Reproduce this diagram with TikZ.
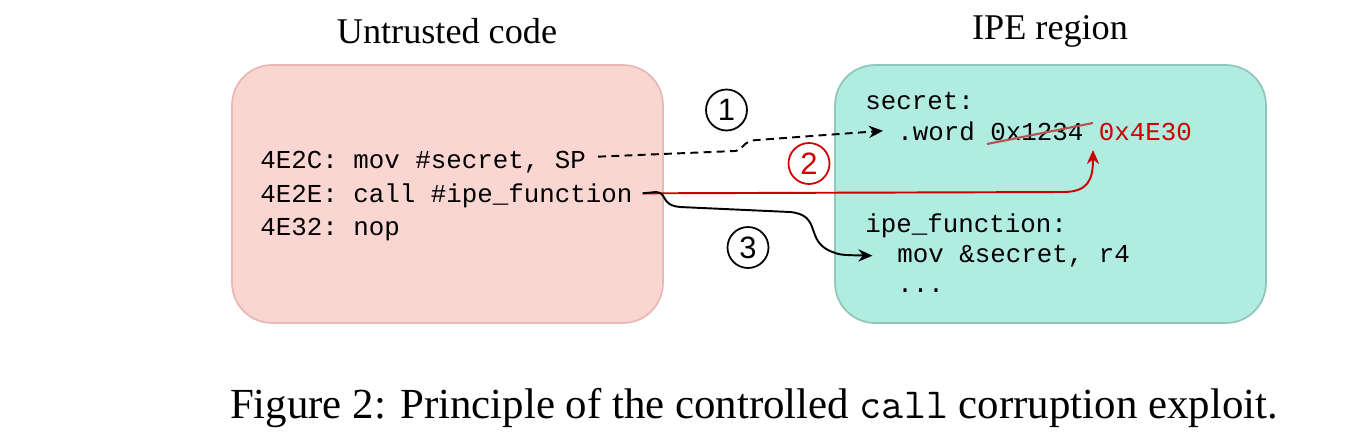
\documentclass[tikz,border=0pt]{standalone}
\usepackage{fontspec}
\setmainfont{Liberation Serif}
\setmonofont{Liberation Mono}
\setsansfont{Liberation Sans}
\newfontfamily\capmono{Latin Modern Mono}
\usetikzlibrary{arrows.meta}

\definecolor{untrustfill}{RGB}{250,214,211}
\definecolor{untrustline}{RGB}{232,184,180}
\definecolor{ipefill}{RGB}{177,236,224}
\definecolor{ipeline}{RGB}{143,199,186}
\definecolor{codered}{RGB}{204,0,0}
\definecolor{strikered}{RGB}{184,84,80}

\begin{document}
\begin{tikzpicture}[x=0.02cm,y=-0.02cm,>={Stealth[length=8pt,width=7pt]},
    region/.style={draw,line width=1pt,rounded corners=0.8cm,minimum width=8.62cm,minimum height=5.16cm},
    code/.style={anchor=base west,inner sep=0pt,font=\ttfamily\fontsize{14.7}{17}\selectfont},
    title/.style={font=\fontsize{20.6}{24}\selectfont},
    stepnum/.style={circle,draw,line width=1pt,minimum size=0.82cm,inner sep=0pt,font=\sffamily\fontsize{17.6}{20}\selectfont}]
    \useasboundingbox (0,0) rectangle (1366,447);
    % the two memory regions
    \node[title] (tU) at (447,31) {Untrusted code};
    \node[title] (tI) at (1050,31) {IPE region};
    \node[region,fill=untrustfill,draw=untrustline] (U) at (447.5,194) {};
    \node[region,fill=ipefill,draw=ipeline] (I) at (1050.5,194) {};
    % untrusted code
    \node[code] (c1) at (260,168) {4E2C: mov \#secret, SP};
    \node[code] (c2) at (260,202) {4E2E: call \#ipe\_function};
    \node[code] (c3) at (260,235) {4E32: nop};
    % IPE region code
    \node[code] (s1) at (865,109) {secret:};
    \node[code] (s2) at (897,140) {.word 0x1234 \textcolor{codered}{0x4E30}};
    \node[code] (f1) at (865,232) {ipe\_function:};
    \node[code] (f2) at (897,262) {mov \&secret, r4};
    \node[code] (f3) at (897,292) {...};
    \coordinate (w1) at (987,144);
    \coordinate (w2) at (1093,123);
    \coordinate (w3) at (1093,150);
    \draw[strikered,line width=1.2pt] (w1) -- (w2);
    % steps
    \draw[->,line width=1.1pt,dash pattern=on 4.5pt off 3pt] ([shift={(12,-5)}]c1.east) -- (735,151)
        .. controls (745,150) and (741,141) .. (757,140) -- ([xshift=-8]s2.west);
    \draw[->,codered,line width=1.1pt] ([shift={(10,-2)}]c2.east) -- (1063,192)
        .. controls (1088,192) and (1093,180) .. (w3);
    \draw[->,line width=1.1pt] ([shift={(10,-2)}]c2.east) -- (656,192)
        .. controls (668,193) and (660,205) .. (680,207) -- (790,212)
        .. controls (822,215) and (805,240) .. (830,251) .. controls (840,255) .. ([xshift=-14]f2.west);
    \node[stepnum] (n1) at (726.5,110) {1};
    \node[stepnum,draw=codered,text=codered] (n2) at (809,163.5) {2};
    \node[stepnum] (n3) at (748,247.5) {3};
    % caption
    \node[font=\fontsize{24.4}{28}\selectfont] (cap) at (754,408) {Figure 2: Principle of the controlled {\capmono call} corruption exploit.};
\end{tikzpicture}
\end{document}
